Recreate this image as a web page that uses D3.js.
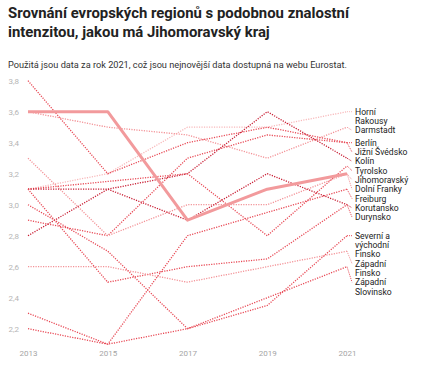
<!DOCTYPE html>
<html>
<head>
<meta charset="utf-8">
<script src="https://cdn.jsdelivr.net/npm/d3@7/dist/d3.min.js"></script>
<style>
  html, body { margin: 0; padding: 0; background: #ffffff; }
  svg { display: block; font-family: Roboto, "Noto Sans", sans-serif; }
</style>
</head>
<body>
<div id="chart"></div>
<script>
// ---- data ----
const title = ["Srovnání evropských regionů s podobnou znalostní", "intenzitou, jakou má Jihomoravský kraj"];
const subtitle = "Použitá jsou data za rok 2021, což jsou nejnovější data dostupná na webu Eurostat.";
const years = [2013, 2015, 2017, 2019, 2021];
const yTicks = [2.2, 2.4, 2.6, 2.8, 3.0, 3.2, 3.4, 3.6, 3.8];
const regions = ["Horní Rakousy", "Darmstadt", "Berlín", "Jižní Švédsko", "Kolín", "Tyrolsko",
  "Jihomoravský", "Dolní Franky", "Freiburg", "Korutansko", "Durynsko",
  "Severní a východní Finsko", "Západní Finsko", "Západní Slovinsko"];
const horniRakousy = [3.1, 3.2, 3.5, 3.5, 3.6];
const darmstadt    = [3.6, 3.5, 3.45, 3.3, 3.5];
const berlin       = [3.8, 3.2, 3.4, 3.5, 3.4];
const jizniSvedsko = [2.9, 2.8, 3.3, 3.45, 3.4];
const kolin        = [2.8, 3.1, 3.2, 3.6, 3.3];
const tyrolsko     = [3.1, 3.15, 3.2, 2.8, 3.25];
const jihomoravsky = [3.6, 3.6, 2.9, 3.1, 3.2];
const dolniFranky  = [3.3, 2.8, 3.0, 3.0, 3.2];
const freiburg     = [2.3, 2.1, 2.8, 2.95, 3.1];
const korutansko   = [3.1, 3.1, 2.9, 3.2, 3.0];
const durynsko     = [3.1, 2.5, 2.6, 2.65, 3.0];
const svFinsko     = [2.2, 2.1, 2.2, 2.35, 2.8];
const zapFinsko    = [2.6, 2.6, 2.5, 2.6, 2.7];
const zapSlovinsko = [3.0, 2.7, 2.2, 2.4, 2.6];
const seriesValues = [horniRakousy, darmstadt, berlin, jizniSvedsko, kolin, tyrolsko,
  jihomoravsky, dolniFranky, freiburg, korutansko, durynsko, svFinsko, zapFinsko, zapSlovinsko];
const highlight = "Jihomoravský";
// tone of each dotted line: 0 = pale, 1 = light, 2 = medium, 3 = dark
const tones = [0, 1, 2, 2, 3, 2, 2, 1, 2, 3, 2, 2, 1, 2];

// ---- layout ----
const W = 421, H = 371;
const margin = { left: 28, right: 74 };
const toneColor = ["#f8b9bb", "#f39297", "#e84a56", "#c81d33"];

const svg = d3.select("#chart").append("svg").attr("width", W).attr("height", H);

const t = svg.append("text").attr("x", 8).attr("y", 18)
  .attr("font-size", 14.9).attr("font-weight", 700).attr("fill", "#222");
title.forEach((line, i) => t.append("tspan").attr("x", 8).attr("dy", i ? 18.5 : 0).text(line));

svg.append("text").attr("x", 8).attr("y", 68).attr("font-size", 9.2).attr("fill", "#333").text(subtitle);

const x = d3.scalePoint().domain(years).range([margin.left, W - margin.right]);
const y = d3.scaleLinear().domain([2.1, 3.8]).range([344.2, 80.7]);

// y axis labels
const yAxis = d3.axisLeft(y).tickValues(yTicks).tickSize(0).tickPadding(0)
  .tickFormat(d => d3.format(".1f")(d).replace(".", ","));
const gy = svg.append("g").attr("transform", "translate(19,0)").call(yAxis);
gy.select(".domain").remove();
gy.selectAll("text").attr("font-size", 8).attr("fill", "#b5b5b5").attr("font-family", "Roboto, sans-serif");

// x axis labels
const xAxis = d3.axisBottom(x).tickSize(0).tickPadding(0).tickFormat(d3.format("d"));
const gx = svg.append("g").attr("transform", "translate(0,350)").call(xAxis);
gx.select(".domain").remove();
gx.selectAll("text").attr("font-size", 8).attr("fill", "#a5a5a5").attr("font-family", "Roboto, sans-serif");

const line = d3.line().x((d, i) => x(years[i])).y(d => y(d));

const series = regions.map((name, i) => ({ name, values: seriesValues[i], tone: tones[i] }));

const gLines = svg.append("g");
series.filter(s => s.name !== highlight).forEach(s => {
  gLines.append("path").attr("d", line(s.values)).attr("fill", "none")
    .attr("stroke", toneColor[s.tone]).attr("stroke-width", 1.3)
    .attr("stroke-dasharray", "1.2,1.3");
});
series.filter(s => s.name === highlight).forEach(s => {
  gLines.append("path").attr("d", line(s.values)).attr("fill", "none")
    .attr("stroke", "#f29a9c").attr("stroke-width", 3).attr("stroke-linejoin", "round");
});

// ---- labels ----
const fs = 8.6, lh = 9.3, maxW = 54;
const lx = W - margin.right + 8;
const measure = svg.append("text").attr("font-size", fs).attr("visibility", "hidden");
function wrap(str) {
  const words = str.split(" ");
  const lines = [];
  let cur = "";
  words.forEach(w => {
    const test = cur ? cur + " " + w : w;
    measure.text(test);
    if (cur && measure.node().getComputedTextLength() > maxW) { lines.push(cur); cur = w; }
    else cur = test;
  });
  lines.push(cur);
  return lines;
}
const labels = series.map((s, i) => {
  const v = s.values[s.values.length - 1];
  return { s, order: i, lines: wrap(s.name), natural: y(v), pos: y(v) };
}).sort((a, b) => a.natural - b.natural || a.order - b.order);
// stack downwards so labels never overlap
for (let i = 1; i < labels.length; i++) {
  const a = labels[i - 1], b = labels[i];
  b.pos = Math.max(b.natural, a.pos + a.lines.length * lh);
}
measure.remove();

const gl = svg.append("g");
labels.forEach(l => {
  const c = l.s.name === highlight ? "#f29a9c" : toneColor[l.s.tone];
  gl.append("path")
    .attr("d", `M${x(2021)},${l.natural}L${lx - 3},${l.pos}`)
    .attr("fill", "none").attr("stroke", c).attr("stroke-width", 1)
    .attr("stroke-dasharray", "1,1");
  const tx = gl.append("text").attr("x", lx).attr("y", l.pos)
    .attr("font-size", fs).attr("fill", "#222");
  l.lines.forEach((ln, i) => tx.append("tspan").attr("x", lx).attr("dy", i ? lh : "0.35em").text(ln));
});
</script>
</body>
</html>
